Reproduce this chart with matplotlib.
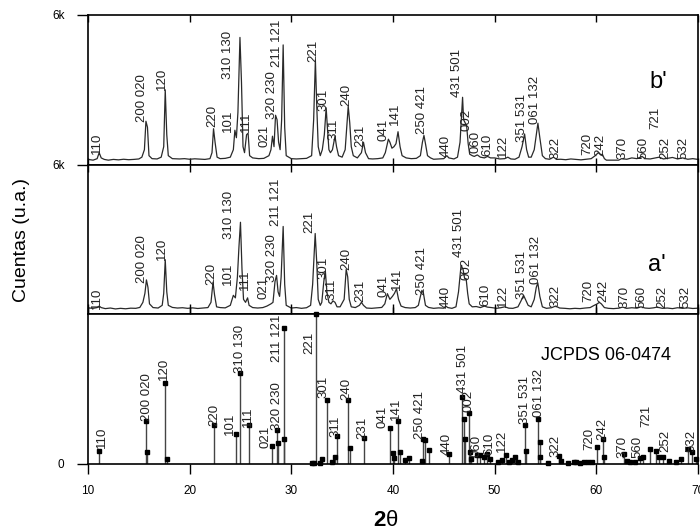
import numpy as np
import matplotlib
matplotlib.use('Agg')
import matplotlib.pyplot as plt

plt.rcParams['font.family'] = ['Liberation Sans', 'DejaVu Sans']

######################
# TRACE b' (top panel)
######################
b_tt = [10.0, 10.5, 10.9, 11.1, 11.3, 11.6, 12.0, 12.5, 13.0, 13.5, 14.0, 14.5, 15.0, 15.3, 15.55,
        15.7, 15.85, 16.0, 16.3, 16.8, 17.2, 17.45, 17.6, 17.75, 17.9, 18.3, 19.0, 19.5, 20.0, 20.5,
        21.0, 21.5, 22.0, 22.2, 22.35, 22.5, 22.7, 23.0, 23.5, 24.0, 24.3, 24.45, 24.6, 24.75, 24.95,
        25.1, 25.25, 25.4, 25.6, 25.75, 25.9, 26.2, 26.8, 27.3, 27.8, 28.0, 28.15, 28.3, 28.45, 28.6,
        28.75, 28.9, 29.05, 29.2, 29.35, 29.5, 30.0, 30.5, 31.0, 31.5, 32.0, 32.2, 32.37, 32.5, 32.65,
        32.85, 33.05, 33.25, 33.43, 33.55, 33.7, 33.85, 34.05, 34.3, 34.45, 34.65, 35.0, 35.3, 35.6,
        35.75, 35.9, 36.1, 36.5, 36.9, 37.1, 37.3, 37.6, 38.0, 38.5, 39.0, 39.25, 39.55, 39.7, 39.9,
        40.1, 40.3, 40.5, 40.7, 40.9, 41.3, 41.8, 42.3, 42.7, 42.9, 43.05, 43.2, 43.4, 43.7, 44.0,
        44.5, 45.0, 45.3, 45.5, 46.0, 46.35, 46.6, 46.85, 46.95, 47.1, 47.25, 47.4, 47.55, 47.8,
        48.0, 48.3, 48.6, 49.0, 49.3, 49.6, 50.0, 50.5, 51.0, 51.3, 51.6, 52.0, 52.4, 52.7, 52.95,
        53.15, 53.35, 53.6, 53.9, 54.1, 54.26, 54.45, 54.7, 55.0, 55.4, 55.8, 56.1, 56.5, 57.0, 57.5,
        58.0, 58.5, 59.0, 59.5, 59.9, 60.2, 60.45, 60.6, 60.8, 61.0, 62.2, 62.5, 63.0, 63.5, 64.0,
        64.5, 64.8, 65.3, 65.8, 66.2, 66.6, 67.0, 67.5, 68.0, 68.5, 69.0, 69.5, 70.0]
b_int = [3.5, 3.0, 4.0, 8.0, 4.5, 3.5, 3.0, 3.5, 3.2, 3.6, 3.3, 3.5, 3.8, 5.0, 10.0,
         29.0, 25.0, 6.0, 4.0, 3.8, 5.0, 12.0, 50.0, 20.0, 6.0, 4.0, 3.8, 4.0, 3.6, 3.9,
         3.7, 3.5, 4.0, 8.0, 24.0, 15.0, 5.0, 4.0, 4.2, 5.0, 10.0, 23.0, 18.0, 35.0, 85.0,
         55.0, 12.0, 8.0, 20.0, 21.0, 6.0, 4.5, 4.0, 4.2, 6.0, 10.0, 19.0, 12.0, 33.0, 30.0,
         15.0, 10.0, 30.0, 80.0, 25.0, 6.0, 4.0, 3.8, 4.0, 4.2, 6.0, 30.0, 70.0, 40.0, 12.0,
         6.0, 10.0, 20.0, 38.0, 25.0, 10.0, 8.0, 10.0, 19.0, 12.0, 6.0, 5.0, 10.0, 39.0,
         28.0, 12.0, 6.0, 4.5, 8.0, 15.0, 8.0, 4.0, 3.8, 4.0, 4.5, 8.0, 17.0, 15.0, 11.0,
         12.0, 14.0, 22.0, 12.0, 6.0, 4.5, 4.0, 4.2, 6.0, 15.0, 19.5, 14.0, 6.0, 4.5, 3.6,
         3.8, 4.0, 6.0, 4.5, 3.8, 5.0, 15.0, 45.0, 30.0, 28.0, 26.0, 14.0, 7.0, 6.0,
         5.5, 6.5, 5.0, 4.5, 5.5, 4.5, 4.5, 3.8, 4.0, 5.0, 3.8, 3.6, 5.0, 12.0, 20.5,
         10.0, 5.0, 5.0, 10.0, 20.0, 27.7, 18.0, 6.0, 4.0, 3.6, 5.0, 3.5, 3.6, 3.3, 3.8,
         3.5, 3.2, 3.6, 4.0, 6.0, 8.0, 6.5, 7.0, 4.0, 3.0, 3.0, 4.0, 3.6, 4.5, 4.0,
         5.5, 4.0, 3.8, 4.5, 5.0, 3.8, 4.2, 4.8, 3.8, 4.5, 3.6, 4.0, 3.5]

b_labels = ['110', '200 020', '120', '220', '101', '310 130', '111', '021', '320 230', '211 121',
            '221', '301', '311', '240', '231', '041', '141', '250 421', '440', '431 501', '002',
            '060', '610', '122', '351 531', '061 132', '322', '720', '242', '370', '560', '721',
            '252', '532']
b_lab_x = [10.85, 15.3, 17.25, 22.2, 23.8, 23.8, 25.5, 27.4, 28.1, 28.57,
           32.2, 33.15, 34.1, 35.4, 36.8, 39.06, 40.2, 42.85, 45.14, 46.35, 47.2,
           48.1, 49.3, 50.8, 52.7, 54.0, 56.0, 59.15, 60.4, 62.6, 64.65, 65.8,
           66.8, 68.6]
b_lab_y = [7.4, 28.4, 49.7, 25.0, 21.7, 57.5, 21.7, 11.6, 30.7, 65.0,
           68.7, 36.0, 16.6, 39.0, 11.6, 16.0, 26.8, 20.6, 5.0, 45.0, 22.8,
           8.0, 6.0, 5.0, 15.0, 27.3, 3.8, 6.7, 6.0, 4.0, 4.0, 24.0,
           3.7, 3.7]

#######################
# TRACE a' (middle panel)
#######################
a_tt = [10.0, 10.5, 10.9, 11.1, 11.3, 11.7, 12.2, 12.7, 13.2, 13.7, 14.2, 14.7, 15.1, 15.4, 15.6,
        15.75, 15.9, 16.05, 16.4, 16.9, 17.3, 17.45, 17.6, 17.75, 17.9, 18.3, 18.8, 19.3, 19.8, 20.3,
        20.8, 21.3, 21.8, 22.1, 22.3, 22.45, 22.65, 23.0, 23.5, 24.0, 24.3, 24.5, 24.7, 24.85, 25.0,
        25.15, 25.3, 25.5, 25.7, 25.85, 26.2, 26.7, 27.2, 27.6, 28.0, 28.2, 28.4, 28.55, 28.7, 28.85,
        29.0, 29.2, 29.35, 29.5, 30.0, 30.5, 31.0, 31.5, 31.9, 32.1, 32.35, 32.5, 32.65, 32.85, 33.0,
        33.2, 33.35, 33.5, 33.7, 33.9, 34.1, 34.3, 34.5, 34.8, 35.2, 35.4, 35.55, 35.7, 35.9, 36.3,
        36.7, 36.9, 37.1, 37.4, 37.9, 38.4, 38.9, 39.2, 39.45, 39.7, 39.95, 40.15, 40.35, 40.55, 40.8,
        41.2, 41.7, 42.2, 42.5, 42.7, 42.85, 43.0, 43.2, 43.5, 44.0, 44.5, 45.0, 45.2, 45.4, 45.8,
        46.2, 46.45, 46.7, 46.9, 47.05, 47.2, 47.35, 47.5, 47.8, 48.2, 48.6, 49.0, 49.3, 49.7, 50.2,
        50.6, 51.0, 51.4, 51.8, 52.3, 52.6, 52.85, 53.1, 53.3, 53.6, 53.9, 54.1, 54.25, 54.45, 54.7,
        55.1, 55.6, 56.0, 56.4, 56.9, 57.4, 57.9, 58.4, 58.9, 59.4, 59.8, 60.1, 60.3, 60.5, 60.8,
        61.2, 61.7, 62.2, 62.6, 63.0, 63.5, 64.0, 64.4, 64.8, 65.2, 65.6, 66.0, 66.5, 67.0, 67.5,
        68.0, 68.5, 69.0, 69.5, 70.0]
a_int = [4.3, 4.0, 4.5, 5.5, 4.5, 3.8, 4.2, 3.6, 4.0, 3.7, 4.1, 4.0, 4.6, 8.0, 14.0,
         23.0, 18.0, 7.0, 4.5, 4.2, 6.0, 14.0, 36.5, 15.0, 6.0, 4.6, 4.2, 4.4, 4.0, 4.3,
         3.9, 4.2, 4.5, 8.0, 21.5, 13.0, 5.0, 4.5, 4.3, 6.0, 12.7, 11.0, 25.0, 45.0, 61.5,
         30.0, 10.0, 8.0, 11.0, 6.0, 4.5, 4.2, 4.5, 5.5, 7.0, 8.0, 22.0, 26.0, 15.0, 12.0,
         25.0, 58.7, 20.0, 6.0, 4.2, 4.5, 4.0, 4.4, 6.0, 20.0, 54.0, 35.0, 10.0, 6.0, 8.0,
         22.0, 29.0, 15.0, 8.0, 7.0, 9.0, 8.0, 5.0, 5.0, 10.0, 30.0, 25.0, 10.0, 5.0, 4.5,
         6.0, 8.0, 6.0, 4.2, 4.0, 4.3, 4.6, 7.0, 13.8, 10.0, 12.0, 14.0, 17.0, 10.0, 5.5,
         4.5, 4.2, 4.5, 6.0, 12.0, 16.0, 14.0, 6.0, 4.6, 4.0, 4.3, 4.1, 5.5, 4.5, 4.0,
         5.0, 15.0, 32.7, 30.0, 24.0, 23.8, 14.0, 7.0, 5.0, 5.2, 4.5, 5.5, 4.8, 4.5, 4.0,
         4.4, 5.0, 4.1, 4.0, 5.0, 9.0, 12.7, 9.0, 6.0, 5.0, 10.0, 18.0, 21.0, 12.0, 5.0,
         4.0, 4.4, 5.5, 4.2, 4.0, 3.7, 4.0, 3.8, 4.2, 4.5, 6.0, 7.0, 8.0, 7.0, 4.5,
         4.0, 3.8, 4.1, 4.8, 4.0, 4.4, 4.1, 5.0, 4.2, 4.0, 4.3, 4.8, 4.0, 4.2, 3.8,
         4.4, 4.0, 4.3, 3.9, 4.1]

a_labels = ['110', '200 020', '120', '220', '101', '310 130', '111', '021', '320 230', '211 121',
            '221', '301', '311', '240', '231', '041', '141', '250 421', '440', '431 501', '002',
            '610', '122', '351 531', '061 132', '322', '720', '242', '370', '560', '252', '532']
a_lab_x = [10.85, 15.3, 17.25, 22.1, 23.8, 23.9, 25.45, 27.3, 28.1, 28.45,
           31.8, 33.15, 33.98, 35.4, 36.8, 39.1, 40.35, 42.85, 45.14, 46.5, 47.27,
           49.07, 50.86, 52.7, 54.1, 55.96, 59.2, 60.7, 62.75, 64.4, 66.46, 68.75]
a_lab_y = [3.8, 21.0, 36.0, 19.3, 19.3, 50.5, 16.0, 10.0, 21.5, 59.0,
           54.0, 23.8, 9.3, 29.8, 8.2, 11.6, 16.0, 12.7, 4.0, 38.2, 22.7,
           5.3, 5.0, 10.5, 20.5, 5.0, 8.2, 8.2, 4.0, 4.0, 4.0, 4.0]

#########################
# JCPDS 06-0474 (sticks)
#########################
ref_tt = [11.1, 15.7, 15.85, 17.6, 17.75, 22.4, 24.57, 25.0, 25.85, 28.08, 28.6, 28.7, 29.3, 29.32,
          32.0, 32.2, 32.45, 32.85, 33.0, 33.5, 34.0, 34.3, 34.5, 35.6, 35.75, 37.2, 39.7, 40.0,
          40.1, 40.5, 40.7, 41.2, 41.6, 42.9, 43.0, 43.2, 43.5, 45.5, 46.8, 47.0, 47.1, 47.45,
          47.55, 47.7, 48.3, 48.6, 49.0, 49.3, 49.5, 50.3, 50.7, 51.1, 51.4, 51.7, 52.0, 52.3,
          53.0, 53.1, 54.3, 54.45, 54.5, 55.3, 56.3, 56.5, 57.2, 57.8, 58.0, 58.4, 58.8, 59.2,
          59.6, 60.1, 60.65, 60.8, 62.75, 63.0, 63.3, 63.8, 64.3, 64.6, 65.25, 65.9, 66.2, 66.6,
          67.2, 67.8, 68.3, 69.0, 69.4, 69.8]
ref_int = [9.0, 29.0, 8.0, 54.0, 3.0, 26.0, 20.0, 61.0, 26.0, 12.0, 23.0, 14.0, 91.0, 17.0,
           0.5, 0.5, 100.0, 0.5, 3.0, 43.0, 1.5, 5.0, 19.0, 43.0, 11.0, 17.5, 24.0, 7.5,
           4.0, 29.0, 8.0, 2.5, 4.0, 2.0, 17.0, 16.0, 9.3, 7.0, 45.0, 30.0, 17.0, 34.0,
           8.0, 3.0, 6.0, 6.0, 4.5, 6.5, 3.0, 1.0, 2.5, 6.0, 1.5, 2.5, 5.0, 1.0,
           26.0, 9.0, 30.0, 15.0, 5.0, 0.5, 5.3, 2.0, 0.5, 1.0, 1.0, 0.5, 1.0, 1.5,
           1.5, 11.5, 17.0, 5.0, 6.5, 2.0, 1.5, 1.0, 4.0, 5.0, 10.0, 9.0, 5.0, 4.5,
           2.0, 1.0, 3.0, 10.0, 8.0, 3.0]

ref_labels = ['110', '200 020', '120', '220', '101', '310 130', '111', '021', '320 230', '211 121',
              '221', '301', '311', '240', '231', '041', '141', '250 421', '440', '431 501', '002',
              '060', '610', '122', '351 531', '061 132', '322', '720', '242', '370', '560', '721',
              '252', '532']
ref_lab_x = [11.35, 15.83, 17.5, 22.4, 24.0, 24.96, 25.78, 27.5, 28.57, 28.6,
             31.8, 33.15, 34.3, 35.4, 36.94, 39.0, 40.3, 42.7, 45.3, 46.88, 47.43,
             48.2, 49.45, 50.75, 53.0, 54.4, 56.0, 59.33, 60.62, 62.53, 64.0, 64.9,
             66.8, 69.4]
ref_lab_y = [10.5, 29.0, 56.0, 25.3, 19.3, 61.0, 25.0, 10.5, 22.7, 68.0,
             73.8, 43.8, 18.2, 42.7, 16.4, 23.8, 29.3, 17.0, 6.0, 47.5, 35.0,
             5.0, 6.0, 8.0, 27.0, 31.5, 5.0, 9.3, 16.0, 4.0, 4.0, 25.0,
             8.0, 8.0]

XTICKS = [10, 20, 30, 40, 50, 60, 70]
LINE_C = '#2a2a2a'
LAB_FS = 9.5

################
# FIGURE LAYOUT
################
fig, axes = plt.subplots(3, 1, sharex=True, figsize=(7.0, 5.31), dpi=100,
                         gridspec_kw=dict(hspace=0))
fig.subplots_adjust(left=0.1257, right=0.997, bottom=0.1262, top=0.9718)
ax_b, ax_a, ax_r = axes

def put_labels(ax, labels, xs, ys):
    for t, x, y in zip(labels, xs, ys):
        ax.text(x, y, t, rotation=90, ha='center', va='bottom', fontsize=LAB_FS,
                color='#222222')

ax_b.plot(b_tt, b_int, color=LINE_C, lw=0.9)
put_labels(ax_b, b_labels, b_lab_x, b_lab_y)
ax_b.text(66.1, 55, "b'", fontsize=17, ha='center', va='center')

ax_a.plot(a_tt, a_int, color=LINE_C, lw=0.9)
put_labels(ax_a, a_labels, a_lab_x, a_lab_y)
ax_a.text(66.0, 32.7, "a'", fontsize=17, ha='center', va='center')

ax_r.vlines(ref_tt, 0, ref_int, colors='#444444', lw=1.0)
ax_r.plot(ref_tt, ref_int, ls='none', marker='s', ms=3, color='black', clip_on=False)
put_labels(ax_r, ref_labels, ref_lab_x, ref_lab_y)
ax_r.text(61.0, 72.7, 'JCPDS 06-0474', fontsize=13, ha='center', va='center')

for ax in axes:
    ax.set_xlim(10, 70)
    ax.set_ylim(0, 100)
    for s in ax.spines.values():
        s.set_linewidth(1.2)
    ax.tick_params(axis='x', direction='in', top=True, bottom=True, length=5, width=1.0,
                   labelsize=8.5)
    ax.tick_params(axis='y', direction='out', length=8, width=1.0, labelsize=8.5, pad=9)

ax_b.set_yticks([100])
ax_b.set_yticklabels(['6k'])
ax_a.set_yticks([100])
ax_a.set_yticklabels(['6k'])
ax_r.set_yticks([0])
ax_r.set_yticklabels(['0'])

ax_r.set_xticks(XTICKS)
ax_r.tick_params(axis='x', which='both', bottom=True, direction='out', length=7, pad=8)

fig.text(0.031, 0.548, 'Cuentas (u.a.)', rotation=90, ha='center', va='center', fontsize=14)
fig.text(0.551, 0.019, '2', ha='right', va='center', fontsize=16, fontweight='bold')
fig.text(0.551, 0.019, '\u03b8', ha='left', va='center', fontsize=16)

plt.savefig('out.png', dpi=100)
